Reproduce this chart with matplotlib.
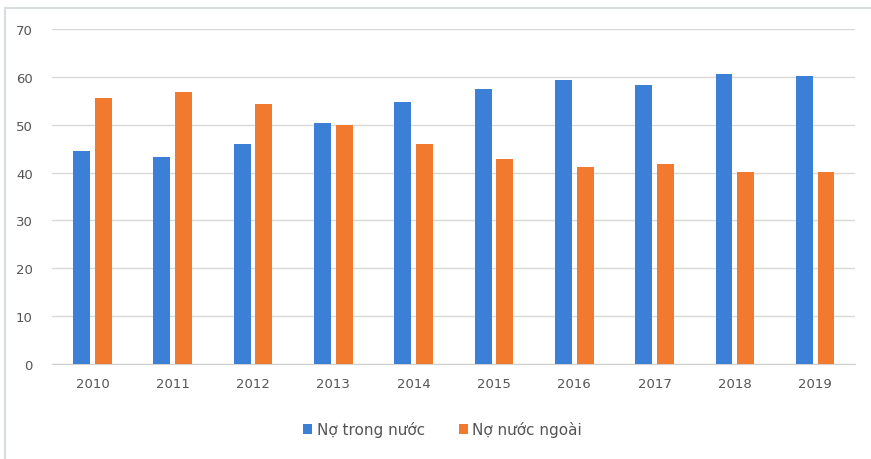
import numpy as np
import matplotlib
matplotlib.use('Agg')
import matplotlib.pyplot as plt
from matplotlib.patches import Rectangle

# Data
years = ['2010', '2011', '2012', '2013', '2014', '2015', '2016', '2017', '2018', '2019']
no_trong_nuoc = [44.5, 43.2, 45.9, 50.3, 54.7, 57.4, 59.3, 58.3, 60.5, 60.1]
no_nuoc_ngoai = [55.5, 56.8, 54.3, 49.9, 45.9, 42.8, 41.1, 41.8, 40.1, 40.1]
y_ticks = [0, 10, 20, 30, 40, 50, 60, 70]

BLUE = '#3b7fd6'
ORANGE = '#f27a2e'

fig = plt.figure(figsize=(8.71, 4.60), dpi=100)
fig.patch.set_facecolor('white')
# faint frame of the scanned chart box
fig.patches.append(Rectangle((0.006, -0.01), 1.0, 0.99, transform=fig.transFigure,
                             fill=False, edgecolor='#d8dde0', linewidth=1.5))

ax = fig.add_axes([0.06, 0.2065, 0.922, 0.7285])
x = np.arange(len(years))
w = 0.21
gap = 0.06
ax.bar(x - (w + gap) / 2, no_trong_nuoc, width=w, color=BLUE, label='Nợ trong nước', zorder=3)
ax.bar(x + (w + gap) / 2, no_nuoc_ngoai, width=w, color=ORANGE, label='Nợ nước ngoài', zorder=3)

ax.set_xlim(-0.5, len(years) - 0.5)
ax.set_ylim(0, 70)
ax.set_yticks(y_ticks)
ax.set_xticks(x)
ax.set_xticklabels(years)
ax.tick_params(axis='both', length=0, labelsize=9.5, colors='#555555')
ax.tick_params(axis='y', pad=14)
ax.tick_params(axis='x', pad=9)
ax.yaxis.grid(True, color='#d9d9d9', linewidth=1, zorder=0)
for s in ['top', 'right', 'left']:
    ax.spines[s].set_visible(False)
ax.spines['bottom'].set_color('#d0d0d0')

ax.legend(loc='upper center', bbox_to_anchor=(0.486, -0.13), ncol=2, frameon=False,
          fontsize=11, handlelength=0.6, handleheight=0.6, handletextpad=0.3,
          columnspacing=2.2, labelcolor='#555555')

fig.savefig('out.png', dpi=100)
